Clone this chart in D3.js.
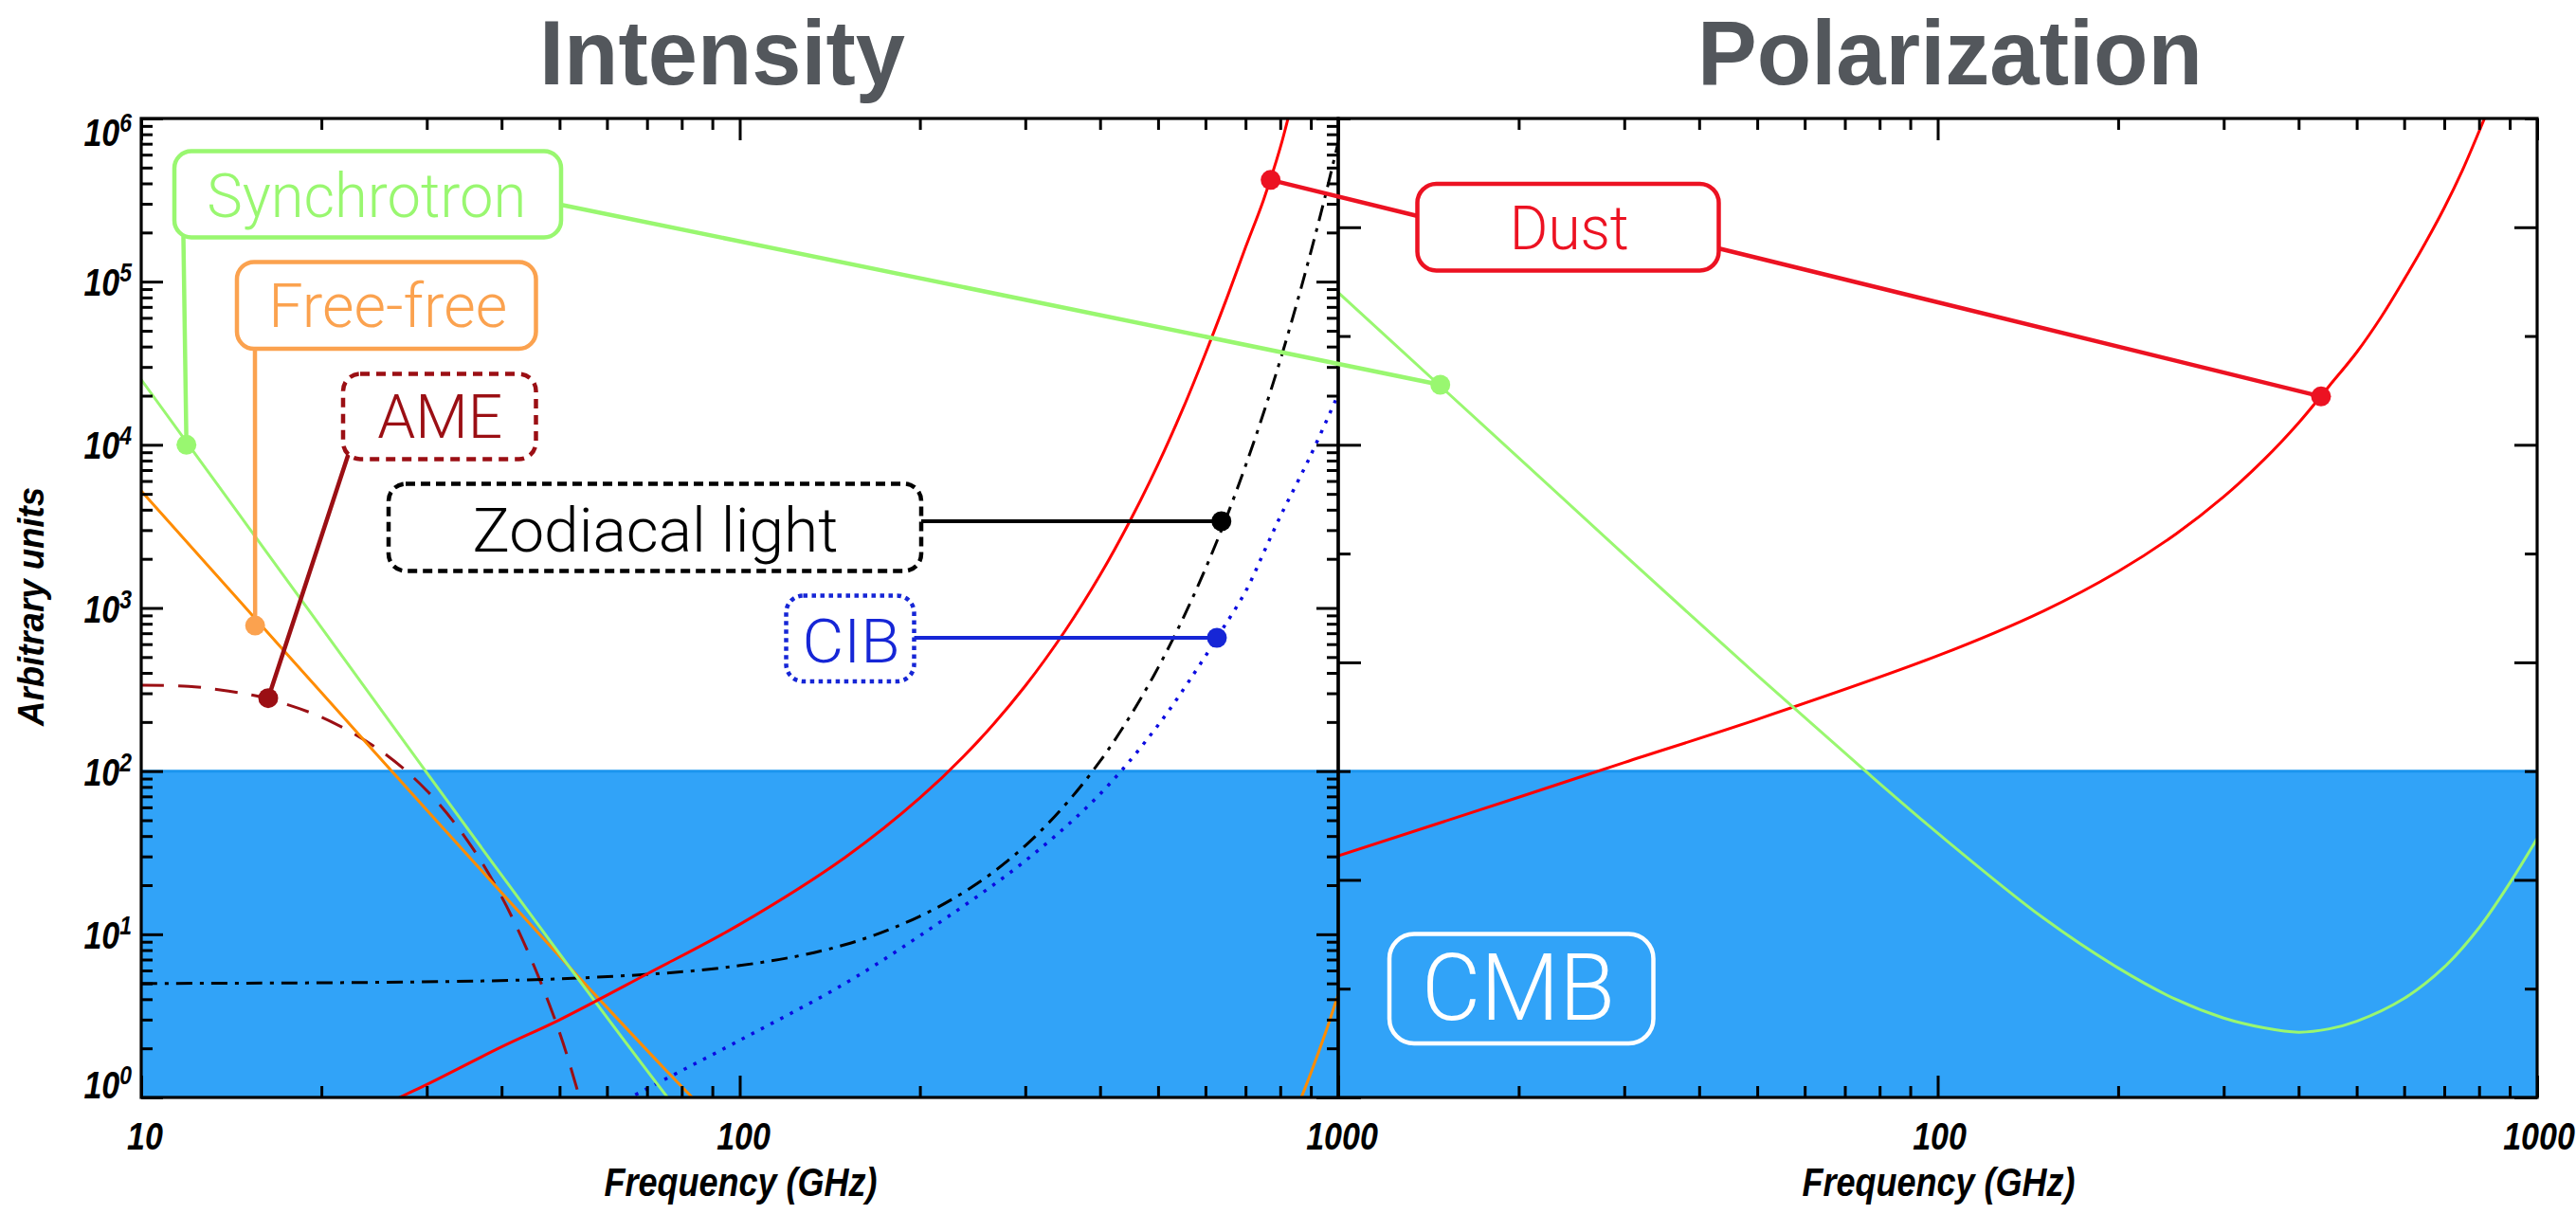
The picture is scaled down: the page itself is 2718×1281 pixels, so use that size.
<!DOCTYPE html>
<html>
<head>
<meta charset="utf-8">
<title>Foreground spectra: intensity and polarization</title>
<script src="https://cdn.jsdelivr.net/npm/d3@7/dist/d3.min.js"></script>
<style>
  html, body { margin: 0; padding: 0; background: #ffffff; }
  svg { display: block; }
</style>
</head>
<body>
<svg id="chart" width="2718" height="1281"></svg>
<script>
// ---------------- data (frequency in GHz, arbitrary units) ----------------
const panelTitles = ["Intensity", "Polarization"];
const xAxisTitle = "Frequency (GHz)";
const yAxisTitle = "Arbitrary units";
const xTickValues = [10, 100, 1000];
const xTickLabels = ["10", "100", "1000"];
const intensityTickExponents = [0, 1, 2, 3, 4, 5, 6];
const polarizationLongTickExponents = [-4, -2, 0, 2, 4];
const polarizationShortTickExponents = [-3, -1, 1, 3, 5];

// CMB level (band from the floor up to this value)
const cmbIntensityLevel = 100;
const cmbPolarizationLevel = 0.1;

// Intensity panel
const synchrotronIntensity = [[10, 25100], [15, 3240], [20, 759], [30, 97.7], [50, 7.59], [75, 1.05], [80, 0.78]];
const freeFreeIntensityLow = [[10, 5220], [15, 986], [20, 303], [30, 57.7], [40, 18.0], [50, 7.33], [60, 3.56], [75, 1.49], [90, 0.75]];
const freeFreeIntensityHigh = [[800, 0.50], [850, 0.83], [900, 1.41], [950, 2.43], [1000, 4.29]];
const ameIntensity = [[10, 336], [12, 331], [14, 309], [16, 282], [20, 214], [25, 135], [30, 76], [35, 38], [40, 17], [45, 6.8], [50, 2.5], [54, 1.0], [57, 0.5]];
const zodiacalIntensity = [[10, 5.0], [50, 5.33], [100, 6.43], [150, 8.64], [200, 12.9], [250, 20.6], [300, 34.9], [350, 62.3], [400, 115], [450, 220], [500, 430], [550, 858], [600, 1740], [650, 3570], [700, 7430], [750, 15600], [800, 33000], [850, 70600], [900, 152000], [950, 328000], [1000, 715000]];
const cibIntensity = [[60, 0.83], [65.7, 1.0], [100, 2.24], [150, 5.0], [200, 9.8], [300, 28.2], [400, 72.4], [500, 191], [594, 479], [627, 656], [700, 1260], [757, 2340], [800, 3630], [898, 8510], [1000, 20400]];
const dustIntensity = [[25, 0.87], [27, 1.0], [30, 1.20], [40, 2.04], [50, 2.99], [70, 5.71], [100, 11.5], [150, 29.6], [200, 68.5], [250, 152], [300, 333], [350, 728], [400, 1590], [450, 3480], [500, 7590], [550, 16600], [600, 36300], [650, 77600], [700, 162000], [750, 316000], [800, 661000], [850, 1580000]];

// Polarization panel
const synchrotronPolarization = [[10, 2510], [15, 324], [20, 75.9], [30, 9.77], [50, 0.759], [75, 0.105], [100, 0.0269], [150, 0.00447], [200, 0.00155], [250, 0.000794], [300, 0.000537], [350, 0.000437], [400, 0.000398], [450, 0.000427], [500, 0.000501], [600, 0.000813], [700, 0.00158], [800, 0.00363], [900, 0.00933], [1000, 0.024]];
const dustPolarization = [[10, 0.0166], [20, 0.0575], [30, 0.120], [50, 0.299], [100, 1.15], [150, 2.96], [200, 6.85], [250, 15.2], [300, 33.3], [350, 72.8], [400, 159], [450, 348], [500, 708], [550, 1510], [600, 3310], [650, 7080], [700, 15100], [750, 33100], [800, 75900], [850, 170000]];

// Annotated points [frequency, value]
const synchrotronMarkI = [11.9, 10000];
const synchrotronMarkP = [14.8, 356];
const freeFreeMark = [15.5, 780];
const ameMark = [16.3, 280];
const zodiacalMark = [638, 3400];
const cibMark = [627, 656];
const dustMarkI = [771, 420000];
const dustMarkP = [436, 278];

// ---------------- layout ----------------
const frame = { top: 125, bottom: 1158, left: [149, 1412], right: [1412, 2677] };
const svg = d3.select("#chart");

const xI = d3.scaleLog().domain([10, 1000]).range(frame.left);
const yI = d3.scaleLog().domain([1, 1e6]).range([frame.bottom, frame.top]);
const xP = d3.scaleLog().domain([10, 1000]).range(frame.right);
const yP = d3.scaleLog().domain([1e-4, 1e5]).range([frame.bottom, frame.top]);

const defs = svg.append("defs");
[["clipI", frame.left], ["clipP", frame.right]].forEach(([id, r]) => {
  defs.append("clipPath").attr("id", id).append("rect")
    .attr("x", r[0]).attr("y", frame.top).attr("width", r[1] - r[0]).attr("height", frame.bottom - frame.top);
});

const COL = {
  synch: "#99f770", freeLabel: "#fba24f", freeLine: "#ff8c00",
  ame: "#9b0f14", zodi: "#000000", cibLabel: "#1626d6", cibLine: "#0b0be0",
  dustLabel: "#ec1222", dustLine: "#ff0000", cmb: "#31a3f8", cmbEdge: "#1b95ee", title: "#53575c"
};

// ---------------- CMB bands ----------------
function cmbBand(x, y, level, clip) {
  const r = x.range();
  svg.append("rect").attr("clip-path", `url(#${clip})`)
    .attr("x", r[0]).attr("y", y(level)).attr("width", r[1] - r[0]).attr("height", frame.bottom - y(level))
    .attr("fill", COL.cmb);
  svg.append("line").attr("x1", r[0]).attr("x2", r[1]).attr("y1", y(level)).attr("y2", y(level))
    .attr("stroke", COL.cmbEdge).attr("stroke-width", 3);
}
cmbBand(xI, yI, cmbIntensityLevel, "clipI");
cmbBand(xP, yP, cmbPolarizationLevel, "clipP");

// ---------------- spectra ----------------
function curve(data, x, y, clip, color, width, dash) {
  const line = d3.line().x(d => x(d[0])).y(d => y(d[1])).curve(d3.curveCatmullRom.alpha(0.5));
  svg.append("path").datum(data).attr("clip-path", `url(#${clip})`)
    .attr("d", line).attr("fill", "none").attr("stroke", color).attr("stroke-width", width)
    .attr("stroke-dasharray", dash || null).attr("stroke-linecap", "butt");
}
curve(ameIntensity, xI, yI, "clipI", COL.ame, 3, "24,15");
curve(zodiacalIntensity, xI, yI, "clipI", COL.zodi, 3, "17,8,4,8");
curve(cibIntensity, xI, yI, "clipI", COL.cibLine, 3.5, "3.5,8");
curve(freeFreeIntensityLow, xI, yI, "clipI", COL.freeLine, 3);
curve(freeFreeIntensityHigh, xI, yI, "clipI", COL.freeLine, 3);
curve(synchrotronIntensity, xI, yI, "clipI", COL.synch, 3);
curve(dustIntensity, xI, yI, "clipI", COL.dustLine, 3);
curve(dustPolarization, xP, yP, "clipP", COL.dustLine, 3);
curve(synchrotronPolarization, xP, yP, "clipP", COL.synch, 3);

// ---------------- axes ----------------
function logMinor(lo, hi) {
  const t = [];
  for (let e = lo; e < hi; e++) for (let m = 2; m <= 9; m++) t.push(m * Math.pow(10, e));
  return t;
}
function ticks(axisGen, scale, values, size, tx, ty) {
  svg.append("g").attr("transform", `translate(${tx},${ty})`)
    .call(axisGen(scale).tickValues(values).tickSize(size).tickSizeOuter(0).tickFormat(""))
    .call(g => g.select(".domain").remove())
    .call(g => g.selectAll(".tick line").attr("stroke", "#000").attr("stroke-width", 3));
}
const xMinor = logMinor(1, 3);
[[xI], [xP]].forEach(([x]) => {
  ticks(d3.axisTop, x, xTickValues, 23, 0, frame.bottom);
  ticks(d3.axisTop, x, xMinor, 12, 0, frame.bottom);
  ticks(d3.axisBottom, x, xTickValues, 23, 0, frame.top);
  ticks(d3.axisBottom, x, xMinor, 12, 0, frame.top);
});
const yIMajor = intensityTickExponents.map(e => Math.pow(10, e));
const yIMinor = logMinor(0, 6);
ticks(d3.axisRight, yI, yIMajor, 23, frame.left[0], 0);
ticks(d3.axisRight, yI, yIMinor, 12, frame.left[0], 0);
ticks(d3.axisLeft, yI, yIMajor, 23, frame.left[1], 0);
ticks(d3.axisLeft, yI, yIMinor, 12, frame.left[1], 0);
const yPLong = polarizationLongTickExponents.map(e => Math.pow(10, e));
const yPShort = polarizationShortTickExponents.map(e => Math.pow(10, e));
ticks(d3.axisRight, yP, yPLong, 24, frame.right[0], 0);
ticks(d3.axisRight, yP, yPShort, 13, frame.right[0], 0);
ticks(d3.axisLeft, yP, yPLong, 24, frame.right[1], 0);
ticks(d3.axisLeft, yP, yPShort, 13, frame.right[1], 0);

[frame.left, frame.right].forEach(r => {
  svg.append("rect").attr("x", r[0]).attr("y", frame.top).attr("width", r[1] - r[0])
    .attr("height", frame.bottom - frame.top).attr("fill", "none").attr("stroke", "#000").attr("stroke-width", 3.2);
});

// ---------------- axis labels ----------------
const AX_FONT = "'Liberation Sans', Arial, Helvetica, sans-serif";
const SQUEEZE = 0.85;
function condensed(x, y, anchor, size) {
  return svg.append("text").attr("transform", `translate(${x},${y}) scale(${SQUEEZE},1)`)
    .attr("text-anchor", anchor).attr("font-family", AX_FONT).attr("font-weight", "bold")
    .attr("font-style", "italic").attr("font-size", size).attr("fill", "#000");
}
intensityTickExponents.forEach((e, i) => {
  const yy = yI(Math.pow(10, e));
  let base = yy + 15;
  if (i === 0) base = yy + 1;
  if (i === intensityTickExponents.length - 1) base = yy + 29;
  const t = condensed(139, base, "end", 40);
  t.append("tspan").text("10");
  t.append("tspan").attr("font-size", 27).attr("dy", -15).text(e);
});
xTickValues.forEach((v, i) => {
  condensed(xI(v) + 4, 1213, "middle", 40).text(xTickLabels[i]);
  if (i > 0) condensed(xP(v) + 2, 1213, "middle", 40).text(xTickLabels[i]);
});
[frame.left, frame.right].forEach(r => {
  svg.append("text").attr("x", (r[0] + r[1]) / 2 + 1).attr("y", 1262).attr("text-anchor", "middle")
    .attr("font-family", AX_FONT).attr("font-weight", "bold").attr("font-style", "italic")
    .attr("font-size", 42).attr("textLength", 288).attr("lengthAdjust", "spacingAndGlyphs").text(xAxisTitle);
});
svg.append("text").attr("transform", "translate(46,640) rotate(-90)").attr("text-anchor", "middle")
  .attr("font-family", AX_FONT).attr("font-weight", "bold").attr("font-style", "italic")
  .attr("font-size", 38).attr("textLength", 252).attr("lengthAdjust", "spacingAndGlyphs").text(yAxisTitle);

// ---------------- titles ----------------
[[panelTitles[0], 569, 386], [panelTitles[1], 1791, 533]].forEach(([txt, x, w]) => {
  svg.append("text").attr("x", x).attr("y", 89).attr("font-family", AX_FONT).attr("font-weight", "bold")
    .attr("font-size", 96).attr("fill", COL.title).attr("textLength", w).attr("lengthAdjust", "spacingAndGlyphs").text(txt);
});

// ---------------- annotations ----------------
const LABEL_FONT = "Roboto, 'Open Sans', 'Liberation Sans', sans-serif";
function leader(p0, p1, color, width) {
  svg.append("line").attr("x1", p0[0]).attr("y1", p0[1]).attr("x2", p1[0]).attr("y2", p1[1])
    .attr("stroke", color).attr("stroke-width", width).attr("stroke-linecap", "round");
}
function dot(p, color) {
  svg.append("circle").attr("cx", p[0]).attr("cy", p[1]).attr("r", 10.5).attr("fill", color);
}
function labelBox(b) {
  svg.append("rect").attr("x", b.x).attr("y", b.y).attr("width", b.w).attr("height", b.h)
    .attr("rx", b.r).attr("ry", b.r).attr("fill", b.fill).attr("stroke", b.color).attr("stroke-width", b.sw)
    .attr("stroke-dasharray", b.dash || null);
  svg.append("text").attr("x", b.tx).attr("y", b.ty).attr("text-anchor", "middle")
    .attr("font-family", LABEL_FONT).attr("font-weight", 300).attr("font-size", b.fs).attr("fill", b.color)
    .attr("textLength", b.tw).attr("lengthAdjust", "spacingAndGlyphs").text(b.text);
}
const pt = (x, y, d) => [x(d[0]), y(d[1])];

// leaders first, then boxes and dots on top
const sIdot = pt(xI, yI, synchrotronMarkI), sPdot = pt(xP, yP, synchrotronMarkP);
const ffDot = pt(xI, yI, freeFreeMark), ameDot = pt(xI, yI, ameMark);
const zDot = pt(xI, yI, zodiacalMark), cDot = pt(xI, yI, cibMark);
const dIdot = pt(xI, yI, dustMarkI), dPdot = pt(xP, yP, dustMarkP);

leader([193.5, 250], sIdot, COL.synch, 4.5);
leader([594, 216.5], sPdot, COL.synch, 4.5);
leader([269, 368], ffDot, COL.freeLabel, 4.5);
leader([368, 478], ameDot, COL.ame, 4.5);
leader([972, zDot[1]], zDot, COL.zodi, 4);
leader([965, cDot[1]], cDot, COL.cibLabel, 4);
leader([1494, 227.5], dIdot, COL.dustLabel, 4.5);
leader([1815, 262.5], dPdot, COL.dustLabel, 4.5);

const boxes = [
  { text: "Synchrotron", x: 184, y: 159.5, w: 408, h: 91, r: 18, color: COL.synch, sw: 4.5, fill: "#fff", tx: 386.7, ty: 229, fs: 64, tw: 337 },
  { text: "Free-free", x: 250, y: 276.5, w: 315.5, h: 91.5, r: 18, color: COL.freeLabel, sw: 4.5, fill: "#fff", tx: 409.2, ty: 345, fs: 64, tw: 252 },
  { text: "AME", x: 362, y: 394.5, w: 203.5, h: 90, r: 18, color: COL.ame, sw: 4.5, fill: "#fff", dash: "10,7", tx: 464.2, ty: 462.3, fs: 64, tw: 132 },
  { text: "Zodiacal light", x: 410, y: 510.5, w: 562, h: 92, r: 18, color: COL.zodi, sw: 4.5, fill: "#fff", dash: "10,6", tx: 691.4, ty: 581.7, fs: 65, tw: 386 },
  { text: "CIB", x: 829.5, y: 628.5, w: 135, h: 90.5, r: 18, color: COL.cibLabel, sw: 4.5, fill: "#fff", dash: "4.5,4.5", tx: 898, ty: 699.3, fs: 65, tw: 103 },
  { text: "Dust", x: 1495.5, y: 194, w: 318, h: 91.5, r: 20, color: COL.dustLabel, sw: 4.5, fill: "#fff", tx: 1655.8, ty: 262.7, fs: 64, tw: 126 },
  { text: "CMB", x: 1466, y: 985.5, w: 278.5, h: 115.5, r: 26, color: "#ffffff", sw: 4.5, fill: "none", tx: 1602, ty: 1076, fs: 98, tw: 204 }
];
boxes.forEach(labelBox);

dot(sIdot, COL.synch); dot(sPdot, COL.synch);
dot(ffDot, COL.freeLabel); dot(ameDot, COL.ame);
dot(zDot, COL.zodi); dot(cDot, COL.cibLabel);
dot(dIdot, COL.dustLabel); dot(dPdot, COL.dustLabel);
</script>
</body>
</html>
